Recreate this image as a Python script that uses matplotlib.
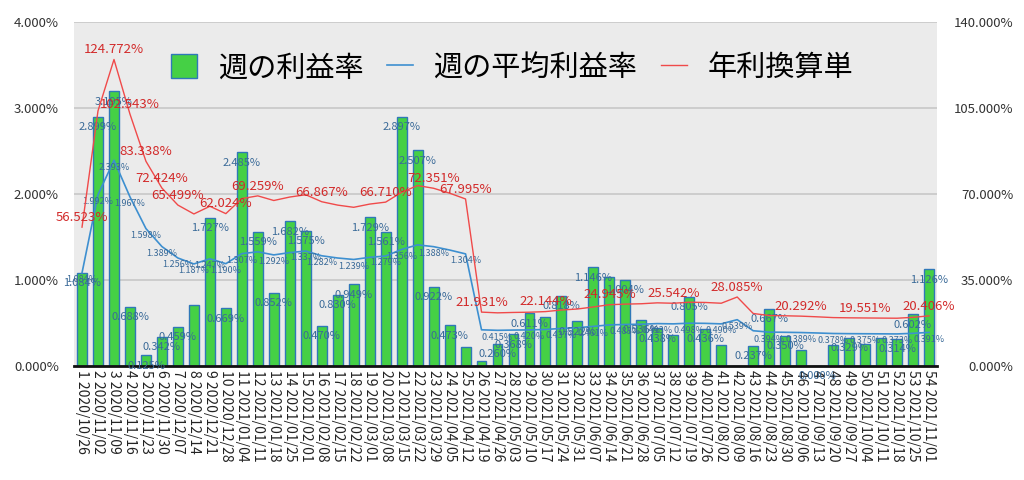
import matplotlib
matplotlib.use("Agg")
import matplotlib.pyplot as plt
from matplotlib.patches import Patch
from matplotlib.lines import Line2D
import numpy as np

plt.rcParams['font.family'] = ['Noto Sans CJK JP', 'DejaVu Sans']

DATES = [
    "2020/10/26", "2020/11/02", "2020/11/09", "2020/11/16", "2020/11/23", "2020/11/30",
    "2020/12/07", "2020/12/14", "2020/12/21", "2020/12/28", "2021/01/04", "2021/01/11",
    "2021/01/18", "2021/01/25", "2021/02/01", "2021/02/08", "2021/02/15", "2021/02/22",
    "2021/03/01", "2021/03/08", "2021/03/15", "2021/03/22", "2021/03/29", "2021/04/05",
    "2021/04/12", "2021/04/19", "2021/04/26", "2021/05/03", "2021/05/10", "2021/05/17",
    "2021/05/24", "2021/05/31", "2021/06/07", "2021/06/14", "2021/06/21", "2021/06/28",
    "2021/07/05", "2021/07/12", "2021/07/19", "2021/07/26", "2021/08/02", "2021/08/09",
    "2021/08/16", "2021/08/23", "2021/08/30", "2021/09/06", "2021/09/13", "2021/09/20",
    "2021/09/27", "2021/10/04", "2021/10/11", "2021/10/18", "2021/10/25", "2021/11/01",
]

# weekly profit rate (%)
weekly = [
    1.084, 2.899, 3.195, 0.688, 0.125, 0.342, 0.459, 0.704, 1.727, 0.669,
    2.485, 1.559, 0.852, 1.682, 1.575, 0.470, 0.830, 0.949, 1.729, 1.561,
    2.897, 2.507, 0.922, 0.473, 0.218, 0.060, 0.260, 0.368, 0.611, 0.565,
    0.818, 0.522, 1.146, 1.040, 1.004, 0.536, 0.438, 0.360, 0.805, 0.436,
    0.245, 0.000, 0.237, 0.667, 0.350, 0.190, 0.000, 0.250, 0.329, 0.260,
    0.330, 0.314, 0.602, 1.126,
]
# average weekly profit rate (%)
average = [
    1.084, 1.992, 2.393, 1.967, 1.598, 1.389, 1.256, 1.187, 1.247, 1.190,
    1.307, 1.328, 1.292, 1.319, 1.337, 1.282, 1.256, 1.239, 1.264, 1.279,
    1.356, 1.409, 1.388, 1.349, 1.304, 0.421, 0.415, 0.418, 0.420, 0.425,
    0.437, 0.445, 0.461, 0.478, 0.483, 0.486, 0.493, 0.490, 0.498, 0.496,
    0.490, 0.539, 0.410, 0.394, 0.392, 0.389, 0.384, 0.378, 0.376, 0.375,
    0.374, 0.373, 0.380, 0.391,
]
# annualised (%), right axis
annual = [
    56.523, 103.87, 124.772, 102.543, 83.338, 72.424, 65.499, 61.894, 65.02, 62.024,
    68.15, 69.259, 67.37, 68.78, 69.72, 66.867, 65.49, 64.60, 65.91, 66.710,
    70.71, 73.45, 72.351, 70.36, 67.995, 21.931, 21.64, 21.80, 21.90, 22.144,
    22.79, 23.20, 24.04, 24.945, 25.19, 25.34, 25.71, 25.542, 25.97, 25.86,
    25.55, 28.085, 21.38, 20.54, 20.44, 20.292, 20.02, 19.71, 19.61, 19.551,
    19.50, 19.45, 19.81, 20.406,
]

# which points carry a value label (1-based week numbers)
bar_lab = [1, 2, 3, 4, 5, 6, 7, 9, 10, 11, 12, 13, 14, 15, 16, 17, 18, 19, 20, 21, 22, 23, 24,
           27, 28, 29, 31, 32, 33, 35, 36, 37, 39, 40, 43, 44, 45, 47, 49, 52, 53, 54]
avg_lab = [1, 2, 3, 4, 5, 6, 7, 8, 9, 10, 11, 13, 15, 16, 18, 20, 21, 23, 25, 27, 29, 31, 33,
           35, 37, 39, 41, 42, 44, 46, 48, 50, 52, 54]
ann_lab = [1, 3, 4, 5, 6, 7, 10, 12, 16, 20, 23, 25, 26, 30, 34, 38, 42, 46, 50, 54]

GREEN = "#45d045"
EDGE = "#2f78b8"
BLUE = "#3d8fd0"
RED = "#f04a4a"
LABBLUE = "#3a6a98"
LABRED = "#d22a2a"

x = np.arange(len(weekly))
ticklabels = [f"{i + 1} {d}" for i, d in enumerate(DATES)]

fig = plt.figure(figsize=(10.24, 4.8), dpi=100)
ax = fig.add_axes([0.0723, 0.2375, 0.8427, 0.7165])
ax.set_facecolor("#ebebeb")
ax.bar(x, weekly, width=0.62, color=GREEN, edgecolor=EDGE, linewidth=1, zorder=2)
ax.plot(x, average, color=BLUE, lw=1.2, zorder=3)
ax.set_xlim(-0.5, len(weekly) - 0.5)
ax.set_ylim(0, 4)
ax.set_yticks([0, 1, 2, 3, 4])
ax.set_yticklabels([f"{v:.3f}%" for v in [0, 1, 2, 3, 4]], fontsize=9.5, color="#333333")
ax.yaxis.grid(True, color="#c4c4c4", lw=1.1, zorder=0)
ax.set_axisbelow(True)
ax.set_xticks(x)
ax.set_xticklabels(ticklabels, rotation=-90, fontsize=10, color="#222222")
ax.tick_params(length=0)
ax.tick_params(axis="y", pad=11)
ax.tick_params(axis="x", pad=3)
for s in ["top", "left", "right"]:
    ax.spines[s].set_visible(False)
ax.spines["bottom"].set_linewidth(2)
ax.spines["bottom"].set_color("#111111")
ax.spines["bottom"].set_zorder(5)

for i in bar_lab:
    ax.annotate(f"{weekly[i - 1]:.3f}%", (x[i - 1], weekly[i - 1]), xytext=(0, -7.5),
                textcoords="offset points", ha="center", va="center",
                fontsize=8, color=LABBLUE, zorder=6)
for i in avg_lab:
    ax.annotate(f"{average[i - 1]:.3f}%", (x[i - 1], average[i - 1]), xytext=(0, -5),
                textcoords="offset points", ha="center", va="center",
                fontsize=6.5, color=LABBLUE, zorder=6)

ax2 = ax.twinx()
ax2.plot(x, annual, color=RED, lw=1.0, zorder=3)
ax2.set_ylim(0, 140)
ax2.set_yticks([0, 35, 70, 105, 140])
ax2.set_yticklabels([f"{v:.3f}%" for v in [0, 35, 70, 105, 140]], fontsize=9.5, color="#333333")
ax2.tick_params(length=0, pad=55)
for lab in ax2.get_yticklabels():
    lab.set_horizontalalignment("right")
for s in ["top", "left", "right", "bottom"]:
    ax2.spines[s].set_visible(False)
for i in ann_lab:
    ax2.annotate(f"{annual[i - 1]:.3f}%", (x[i - 1], annual[i - 1]), xytext=(0, 7),
                 textcoords="offset points", ha="center", va="center",
                 fontsize=9.5, color=LABRED, zorder=6)

handles = [
    Patch(facecolor=GREEN, edgecolor=EDGE, linewidth=1),
    Line2D([0], [0], color=BLUE, lw=1.2),
    Line2D([0], [0], color=RED, lw=1.0),
]
fig.legend(handles, ["週の利益率", "週の平均利益率", "年利換算単"], loc="center left",
           bbox_to_anchor=(0.167, 0.858), ncol=3, frameon=False, fontsize=21,
           handlelength=0.9, handleheight=0.9, handletextpad=0.7, columnspacing=0.8,
           borderpad=0, borderaxespad=0)

fig.savefig("out.png", dpi=100)
